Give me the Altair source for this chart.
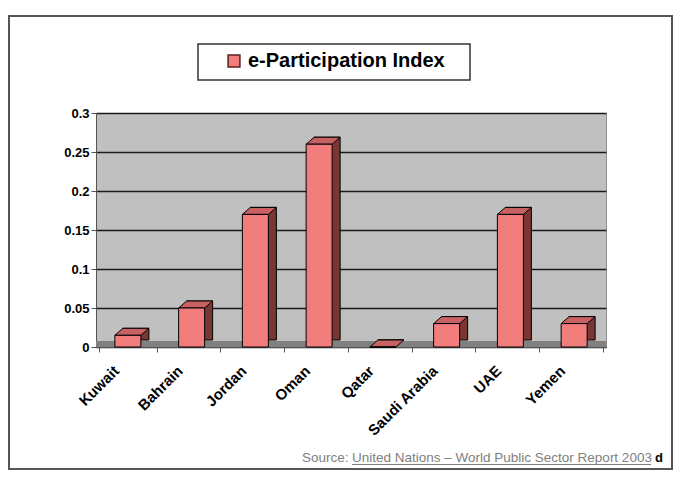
import altair as alt
import pandas as pd

countries = ["Kuwait", "Bahrain", "Jordan", "Oman", "Qatar", "Saudi Arabia", "UAE", "Yemen"]
values = [0.015, 0.05, 0.17, 0.26, 0.0, 0.03, 0.17, 0.03]
series_name = "e-Participation Index"
y_ticks = [0, 0.05, 0.1, 0.15, 0.2, 0.25, 0.3]
source_prefix = "Source:"
source_link = "United Nations – World Public Sector Report 2003"
source_tail = "d"

FONT = "Liberation Sans"

df = pd.DataFrame({"country": countries, "value": values, "series": [series_name] * len(countries)})
one = pd.DataFrame({"k": [0]})

x_axis = alt.Axis(labelAngle=-45, labelAlign="right", labelBaseline="middle",
                  labelFont=FONT, labelFontWeight="bold", labelFontSize=15, labelColor="#000",
                  tickBand="extent", tickSize=5, tickColor="#555", domainColor="#555",
                  labelPadding=16, labelOffset=-12, grid=False)
x_enc = alt.X("country:N", sort=countries, title=None, axis=x_axis)

y_scale = alt.Scale(domain=[0, 0.3], nice=False)
y_axis = alt.Axis(values=y_ticks, format="~g", labelFont=FONT, labelFontWeight="bold",
                  labelFontSize=13, labelColor="#000", tickSize=5, tickColor="#555",
                  domainColor="#555", grid=True, gridColor="#1a1a1a", gridWidth=1.5,
                  gridOpacity=1, labelPadding=2, labelOverlap=False)
y_enc = alt.Y("value:Q", title=None, scale=y_scale, axis=y_axis)

base = alt.Chart(df)

floor = base.mark_rule(color="#808080", strokeWidth=6, yOffset=-3).encode(
    y=alt.YDatum(0, scale=y_scale, axis=y_axis))

side = base.mark_bar(size=26, color="#7A3535", stroke="#000", strokeWidth=1,
                     xOffset=8, yOffset=-7).encode(x=x_enc, y=y_enc)

top_shape = "M -0.765 0 L 0.765 0 L 1.235 -0.412 L -0.294 -0.412 Z"
top = base.mark_point(shape=top_shape, size=1156, filled=True, fill="#C86262",
                      stroke="#000", strokeWidth=1, opacity=1).encode(x=x_enc, y=y_enc)

front = base.mark_bar(size=26, stroke="#000", strokeWidth=1).encode(
    x=x_enc, y=y_enc,
    color=alt.Color("series:N", title=None,
                    scale=alt.Scale(domain=[series_name], range=["#F27D7D"]),
                    legend=alt.Legend(orient="none", legendX=128, legendY=-62,
                                      direction="horizontal", symbolType="square",
                                      symbolSize=140, symbolStrokeColor="#5A1F1F",
                                      symbolStrokeWidth=1.5, labelFont=FONT,
                                      labelFontWeight="bold", labelFontSize=20,
                                      labelColor="#000", labelOffset=4, padding=0,
                                      labelLimit=400)),
)

frame = alt.Chart(one).mark_rect(filled=False, color="#555", strokeWidth=2).encode(
    x=alt.value(-87), x2=alt.value(576), y=alt.value(-97), y2=alt.value(356))

legend_box = alt.Chart(one).mark_rect(fill="#fff", stroke="#333", strokeWidth=1.5).encode(
    x=alt.value(102), x2=alt.value(374), y=alt.value(-69), y2=alt.value(-33))

src_prefix = alt.Chart(one).mark_text(align="left", baseline="alphabetic", font=FONT,
                                      fontSize=13.5, color="#808080").encode(
    x=alt.value(206), y=alt.value(349), text=alt.value(source_prefix))
src_link = alt.Chart(one).mark_text(align="left", baseline="alphabetic", font=FONT,
                                    fontSize=13.5, color="#808080").encode(
    x=alt.value(256), y=alt.value(349), text=alt.value(source_link))
src_underline = alt.Chart(one).mark_rule(color="#808080", strokeWidth=1).encode(
    x=alt.value(256), x2=alt.value(555), y=alt.value(351.5))
src_tail = alt.Chart(one).mark_text(align="left", baseline="alphabetic", font=FONT,
                                    fontSize=13, fontWeight="bold", color="#000").encode(
    x=alt.value(559), y=alt.value(349), text=alt.value(source_tail))

chart = alt.layer(
    frame, legend_box, floor, side, top, front, src_prefix, src_link, src_underline, src_tail
).properties(
    width=510, height=234,
    autosize=alt.AutoSizeParams(type="none"),
    padding={"left": 88, "top": 105, "right": 68, "bottom": 123},
    background="#ffffff",
).configure_view(fill="#C0C0C0", stroke="#909090", strokeWidth=1)

chart.save("out.html", embed_options={"renderer": "svg", "actions": False})
